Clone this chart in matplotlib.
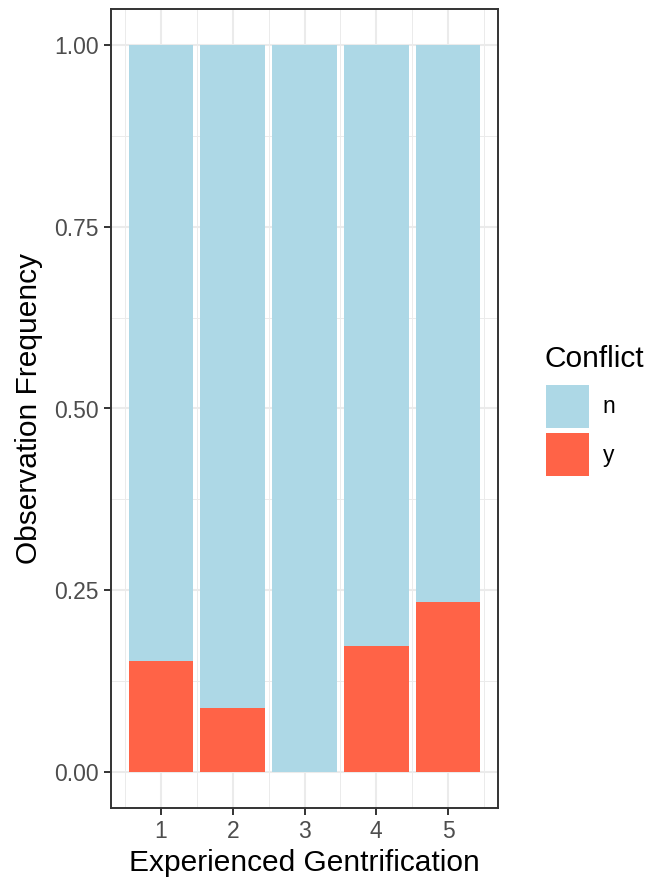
import matplotlib.pyplot as plt
import matplotlib.patches as mpatches
import numpy as np

plt.rcParams['font.family'] = ['Liberation Sans', 'DejaVu Sans']

# data: share of observations with conflict (y) per gentrification level
levels = [1, 2, 3, 4, 5]
share_y = [0.152, 0.087, 0.0, 0.173, 0.234]
share_n = [1 - v for v in share_y]
groups = ['n', 'y']
colors = {'n': '#ADD8E6', 'y': '#FF6347'}

border = '#333333'
grid = '#EBEBEB'

fig = plt.figure(figsize=(6.47, 8.84), dpi=100)
ax = fig.add_axes([111 / 647, 1 - 808 / 884, 387 / 647, (808 - 9) / 884])

# grid (theme_bw look)
ax.set_axisbelow(True)
for v in np.arange(0.5, 5.6, 1.0):
    ax.axvline(v, color=grid, lw=0.7, zorder=0)
for v in levels:
    ax.axvline(v, color=grid, lw=1.5, zorder=0)
for v in np.arange(0.125, 1.0, 0.25):
    ax.axhline(v, color=grid, lw=0.7, zorder=0)
for v in np.arange(0, 1.01, 0.25):
    ax.axhline(v, color=grid, lw=1.5, zorder=0)

ax.bar(levels, share_y, width=0.9, color=colors['y'], zorder=2)
ax.bar(levels, share_n, width=0.9, bottom=share_y, color=colors['n'], zorder=2)

ax.set_xlim(0.305, 5.695)
ax.set_ylim(-0.05, 1.05)
ax.set_xticks(levels)
ax.set_xticklabels([str(v) for v in levels])
ax.set_yticks([0, 0.25, 0.5, 0.75, 1.0])
ax.set_yticklabels(['0.00', '0.25', '0.50', '0.75', '1.00'])
ax.tick_params(axis='both', length=5, width=1.4, color=border,
               labelcolor='#4D4D4D', labelsize=16.5, pad=4)
for s in ax.spines.values():
    s.set_color(border)
    s.set_linewidth(1.4)

ax.set_xlabel('Experienced Gentrification', fontsize=21.5, labelpad=4)
ax.set_ylabel('Observation Frequency', fontsize=21.5, labelpad=8)

# legend: title as separate text, keys below
fig.text(545 / 647, 1 - 367 / 884, 'Conflict', fontsize=21.5, ha='left', va='baseline')
handles = [mpatches.Patch(facecolor=colors[g], edgecolor='none') for g in groups]
fig.legend(handles, groups, loc='upper left',
           bbox_to_anchor=(546 / 647, 1 - 385 / 884), frameon=False,
           fontsize=16.5, handlelength=1.88, handleheight=2.51,
           labelspacing=0.22, handletextpad=0.6, borderpad=0,
           borderaxespad=0)

fig.savefig('out.png', dpi=100)
